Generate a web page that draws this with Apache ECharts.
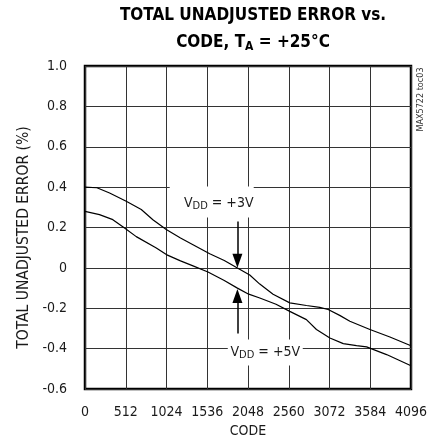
<!DOCTYPE html>
<html>
<head>
<meta charset="utf-8">
<script src="https://cdn.jsdelivr.net/npm/echarts@6/dist/echarts.min.js"></script>
<style>
html,body{margin:0;padding:0;background:#fff;}
#chart{width:435px;height:443px;}
</style>
</head>
<body>
<div id="chart"></div>
<script>
// ---- data ----
const codes3 = [0, 150, 309, 518, 707, 853, 1021, 1200, 1357, 1567, 1750, 1915, 2070, 2196, 2363, 2573, 2782, 2950, 3055, 3200, 3328, 3580, 3831, 4096];
const err3   = [0.40, 0.397, 0.371, 0.33, 0.289, 0.239, 0.19, 0.148, 0.115, 0.07, 0.037, 0.0, -0.035, -0.08, -0.13, -0.173, -0.186, -0.195, -0.206, -0.235, -0.264, -0.305, -0.342, -0.385];
const codes5 = [0, 182, 350, 497, 644, 896, 1022, 1200, 1357, 1545, 1750, 1915, 2057, 2196, 2400, 2573, 2782, 2908, 3077, 3245, 3412, 3538, 3789, 4096];
const err5   = [0.28, 0.264, 0.239, 0.198, 0.155, 0.099, 0.066, 0.035, 0.01, -0.02, -0.062, -0.10, -0.13, -0.149, -0.18, -0.215, -0.256, -0.305, -0.347, -0.375, -0.385, -0.391, -0.429, -0.484];
const xTicks = [0, 512, 1024, 1536, 2048, 2560, 3072, 3584, 4096];
const yTicks = [-0.6, -0.4, -0.2, 0, 0.2, 0.4, 0.6, 0.8, 1.0];
const seriesNames = ['VDD = +3V', 'VDD = +5V'];

const FONT = "'DejaVu Sans Condensed', 'Liberation Sans', sans-serif";
const TFONT = "'DejaVu Sans Condensed', 'Liberation Sans', sans-serif";
const TXT = '#1a1a1a';

const chart = echarts.init(document.getElementById('chart'), null, {renderer: 'canvas'});
const pairs = (xs, ys) => xs.map((x, i) => [x, ys[i]]);

const subRich = {
  sub: {fontFamily: FONT, fontSize: 11, color: TXT, padding: [6, 0, 0, 0]},
  main: {fontFamily: FONT, fontSize: 14, color: TXT}
};

chart.setOption({
  animation: false,
  backgroundColor: '#fff',
  title: {
    text: '{t|TOTAL UNADJUSTED ERROR vs.}\n{t|CODE, T}{s|A}{t| = +25°C}',
    left: 248,
    top: -3,
    textAlign: 'center',
    textStyle: {
      rich: {
        t: {fontFamily: TFONT, fontWeight: 'bold', fontSize: 17, color: '#000', lineHeight: 27},
        s: {fontFamily: TFONT, fontWeight: 'bold', fontSize: 12, color: '#000', lineHeight: 27, padding: [8, 0, 0, 0]}
      }
    }
  },
  grid: {left: 85, right: 24, top: 66, bottom: 53, show: true, borderColor: '#000', borderWidth: 2.5, backgroundColor: 'transparent'},
  xAxis: {
    type: 'value', min: xTicks[0], max: xTicks[xTicks.length - 1], interval: 512,
    name: 'CODE', nameLocation: 'middle', nameGap: 34,
    nameTextStyle: {fontFamily: FONT, fontSize: 14, color: TXT},
    axisLine: {show: false}, axisTick: {show: false},
    axisLabel: {fontFamily: FONT, fontSize: 14, color: TXT, margin: 16, showMinLabel: true, showMaxLabel: true,
      formatter: v => String(v)},
    splitLine: {show: true, lineStyle: {color: '#333', width: 1}}
  },
  yAxis: {
    type: 'value', min: yTicks[0], max: yTicks[yTicks.length - 1], interval: 0.2,
    name: 'TOTAL UNADJUSTED ERROR (%)', nameLocation: 'middle', nameGap: 45,
    nameTextStyle: {fontFamily: FONT, fontSize: 15.5, color: TXT, padding: [0, 20, 0, 0]},
    axisLine: {show: false}, axisTick: {show: false},
    axisLabel: {fontFamily: FONT, fontSize: 14, color: TXT, margin: 18,
      formatter: v => Math.abs(v) < 1e-9 ? '0' : v.toFixed(1)},
    splitLine: {show: true, lineStyle: {color: '#333', width: 1}}
  },
  series: [
    {
      name: seriesNames[0], type: 'line', data: pairs(codes3, err3), showSymbol: false, smooth: false,
      lineStyle: {color: '#000', width: 1.2}, z: 3,
      markPoint: {
        silent: true,
        data: [{coord: [1592, 0.326], symbol: 'rect', symbolSize: [84, 31], itemStyle: {color: '#fff'},
          label: {show: true, position: 'inside', offset: [7, 1], formatter: '{main|V}{sub|DD}{main| = +3V}', rich: subRich}}]
      },
      markLine: {
        silent: true, symbol: ['none', 'triangle'], symbolSize: [10, 14],
        lineStyle: {color: '#000', width: 1.5, type: 'solid'}, label: {show: false},
        data: [[{coord: [1915, 0.23]}, {coord: [1915, 0.035]}]]
      }
    },
    {
      name: seriesNames[1], type: 'line', data: pairs(codes5, err5), showSymbol: false, smooth: false,
      lineStyle: {color: '#000', width: 1.2}, z: 3,
      markPoint: {
        silent: true,
        data: [{coord: [2265, -0.419], symbol: 'rect', symbolSize: [75, 26], itemStyle: {color: '#fff'},
          label: {show: true, position: 'inside', offset: [0, 0], formatter: '{main|V}{sub|DD}{main| = +5V}', rich: subRich}}]
      },
      markLine: {
        silent: true, symbol: ['none', 'triangle'], symbolSize: [10, 14],
        lineStyle: {color: '#000', width: 1.5, type: 'solid'}, label: {show: false},
        data: [[{coord: [1915, -0.325]}, {coord: [1915, -0.139]}]]
      }
    }
  ],
  graphic: [{
    type: 'text', x: 421, y: 99.5, rotation: Math.PI / 2,
    style: {text: 'MAX5722 toc03', fontFamily: FONT, fontSize: 9, fill: '#333', align: 'center', verticalAlign: 'middle'}
  }]
});
</script>
</body>
</html>
